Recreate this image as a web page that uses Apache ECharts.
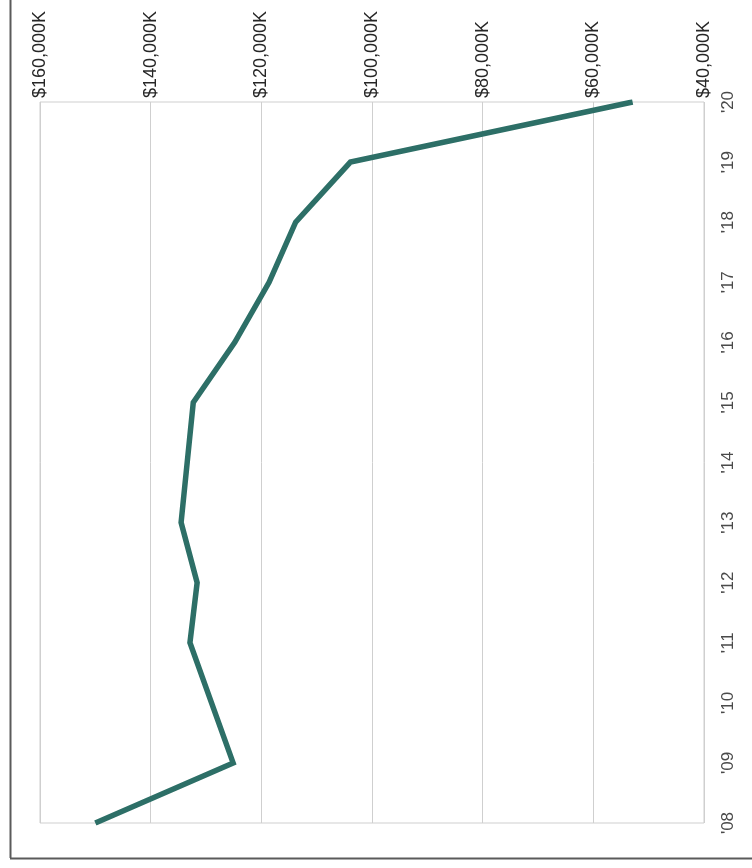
<!DOCTYPE html>
<html>
<head>
<meta charset="utf-8">
<script src="https://cdn.jsdelivr.net/npm/echarts@6/dist/echarts.min.js"></script>
<style>
  html, body { margin: 0; padding: 0; background: #ffffff; }
  #chart { width: 752px; height: 868px; }
</style>
</head>
<body>
<div id="chart"></div>
<script>
// Fiscal years, oldest first
const years = ["'08", "'09", "'10", "'11", "'12", "'13", "'14", "'15", "'16", "'17", "'18", "'19", "'20"];
// Amounts in thousands of dollars
const amounts = [150000, 125100, 129000, 132900, 131600, 134500, 133400, 132300, 124800, 118600, 113800, 103900, 52900];
// Value axis range and step (thousands of dollars)
const valueMin = 40000;
const valueMax = 160000;
const valueStep = 20000;

function money(v) {
  return '$' + v.toLocaleString('en-US') + 'K';
}

const chart = echarts.init(document.getElementById('chart'), null, { renderer: 'canvas' });

chart.setOption({
  animation: false,
  backgroundColor: '#ffffff',
  grid: {
    left: 40, right: 48, top: 102, bottom: 45,
    show: true,
    borderColor: '#cfcfcf',
    borderWidth: 1,
    backgroundColor: 'transparent'
  },
  xAxis: {
    type: 'value',
    position: 'top',
    inverse: true,
    min: valueMin,
    max: valueMax,
    interval: valueStep,
    axisLine: { show: false },
    axisTick: { show: false },
    splitLine: { show: true, lineStyle: { color: '#cfcfcf', width: 1 } },
    axisLabel: {
      // the axis is inverted, so a negative angle turns the text to read upward
      rotate: -90,
      margin: 4,
      fontFamily: 'Liberation Sans, Arial, sans-serif',
      fontSize: 18,
      color: '#262626',
      formatter: money
    }
  },
  yAxis: {
    type: 'category',
    position: 'right',
    boundaryGap: false,
    data: years,
    axisLine: { show: false },
    axisTick: { show: false },
    splitLine: { show: false },
    axisLabel: {
      rotate: 90,
      margin: 16,
      fontFamily: 'Liberation Sans, Arial, sans-serif',
      fontSize: 17,
      color: '#4a4a4a'
    }
  },
  series: [{
    type: 'line',
    data: amounts.map((v, i) => [v, years[i]]),
    showSymbol: false,
    symbol: 'none',
    lineStyle: { color: '#2d6f67', width: 5.5, join: 'miter' },
    itemStyle: { color: '#2d6f67' }
  }],
  graphic: [
    { type: 'line', shape: { x1: 10.5, y1: 0, x2: 10.5, y2: 858 }, style: { stroke: '#5a5a5a', lineWidth: 2 } },
    { type: 'line', shape: { x1: 10, y1: 858.5, x2: 752, y2: 858.5 }, style: { stroke: '#5a5a5a', lineWidth: 2 } }
  ]
});
</script>
</body>
</html>
